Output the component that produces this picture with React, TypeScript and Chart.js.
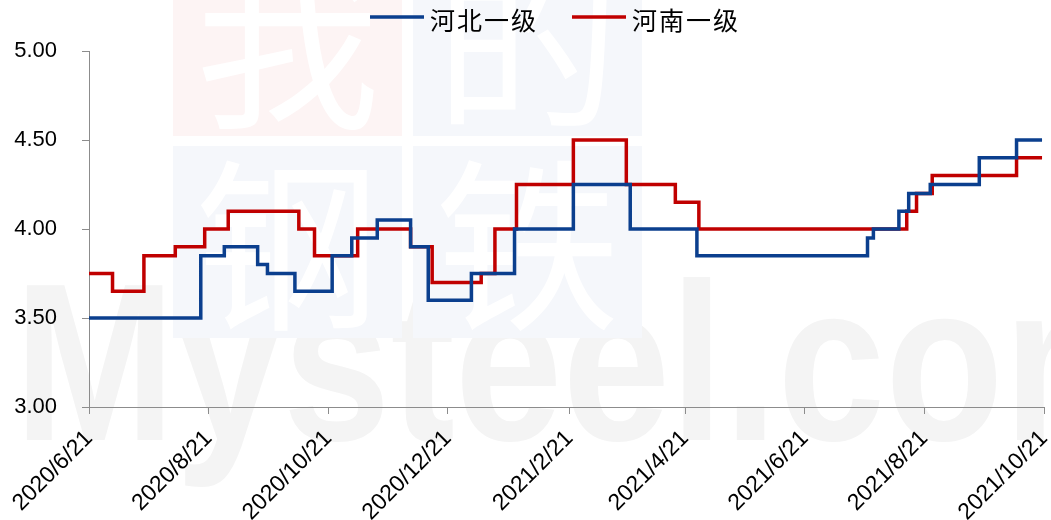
import React, { useEffect, useRef } from "react";
import { Chart, registerables } from "chart.js";

Chart.register(...registerables);

// ---- data ----
const seriesNames = ["河北一级", "河南一级"];
const seriesColors = ["#0B3F8E", "#C00000"];

const hebeiDates = [
  "2020-06-21", "2020-08-17", "2020-08-29", "2020-09-15", "2020-09-20", "2020-10-04",
  "2020-10-23", "2020-11-02", "2020-11-15", "2020-12-02", "2020-12-11", "2021-01-02",
  "2021-01-24", "2021-02-23", "2021-03-24", "2021-04-27", "2021-07-23", "2021-07-26",
  "2021-08-08", "2021-08-13", "2021-08-24", "2021-09-18", "2021-10-07", "2021-10-20",
];
const hebeiValues = [
  3.5, 3.85, 3.9, 3.8, 3.75, 3.65,
  3.85, 3.95, 4.05, 3.9, 3.6, 3.75,
  4.0, 4.25, 4.0, 3.85, 3.95, 4.0,
  4.1, 4.2, 4.25, 4.4, 4.5, 4.5,
];

const henanDates = [
  "2020-06-21", "2020-07-03", "2020-07-19", "2020-08-04", "2020-08-19", "2020-08-31",
  "2020-10-06", "2020-10-14", "2020-11-05", "2020-12-02", "2020-12-13", "2021-01-07",
  "2021-01-14", "2021-01-25", "2021-02-23", "2021-03-22", "2021-04-16", "2021-04-28",
  "2021-08-12", "2021-08-17", "2021-08-25", "2021-10-07", "2021-10-20",
];
const henanValues = [
  3.75, 3.65, 3.85, 3.9, 4.0, 4.1,
  4.0, 3.85, 4.0, 3.9, 3.7, 3.75,
  4.0, 4.25, 4.5, 4.25, 4.15, 4.0,
  4.1, 4.2, 4.3, 4.4, 4.4,
];

const tickDates = [
  "2020-06-21", "2020-08-21", "2020-10-21", "2020-12-21", "2021-02-21",
  "2021-04-21", "2021-06-21", "2021-08-21", "2021-10-21",
];
const tickLabels = [
  "2020/6/21", "2020/8/21", "2020/10/21", "2020/12/21", "2021/2/21",
  "2021/4/21", "2021/6/21", "2021/8/21", "2021/10/21",
];
const yMin = 3;
const yMax = 5;
const yStep = 0.5;

// ---- helpers ----
const START = Date.UTC(2020, 5, 21);
function dayIndex(d: string): number {
  const [y, m, dd] = d.split("-").map(Number);
  return Math.round((Date.UTC(y, m - 1, dd) - START) / 86400000);
}
function toPoints(dates: string[], values: number[]) {
  return dates.map((d, i) => ({ x: dayIndex(d), y: values[i] }));
}

const watermarkPlugin = {
  id: "watermark",
  beforeDraw(chart: any) {
    const ctx = chart.ctx as CanvasRenderingContext2D;
    ctx.save();
    ctx.fillStyle = "#ffffff";
    ctx.fillRect(0, 0, chart.width, chart.height);
    // big latin watermark
    ctx.save();
    ctx.fillStyle = "#f4f4f4";
    ctx.font = "bold 225px 'Liberation Sans'";
    ctx.textBaseline = "alphabetic";
    ctx.textAlign = "left";
    ctx.translate(14, 440);
    ctx.scale(0.86, 1);
    ctx.fillText("Mysteel.com", 0, 0);
    ctx.restore();
    // tinted blocks with white characters
    const blocks = [
      { x: 173, y: -56, w: 229, h: 192, c: "#fdf4f4", t: "我" },
      { x: 413, y: -56, w: 229, h: 192, c: "#f5f7fb", t: "的" },
      { x: 173, y: 146, w: 229, h: 192, c: "#f5f7fb", t: "钢" },
      { x: 413, y: 146, w: 229, h: 192, c: "#f5f7fb", t: "铁" },
    ];
    ctx.textAlign = "center";
    ctx.textBaseline = "middle";
    ctx.font = "185px 'Noto Sans CJK SC'";
    for (const b of blocks) {
      ctx.fillStyle = b.c;
      ctx.fillRect(b.x, b.y, b.w, b.h);
      ctx.fillStyle = "#ffffff";
      ctx.fillText(b.t, b.x + b.w / 2, b.y + b.h / 2 + 4);
    }
    ctx.restore();
  },
};

const legendPlugin = {
  id: "customLegend",
  afterDraw(chart: any) {
    const ctx = chart.ctx as CanvasRenderingContext2D;
    ctx.save();
    ctx.font = "25px 'Noto Sans CJK SC'";
    try { (ctx as any).letterSpacing = "2px"; } catch (e) { /* ignore */ }
    const lineW = 54;
    const gapText = 6;
    const gapItem = 34;
    const items = chart.data.datasets.map((ds: any) => ({
      label: ds.label as string,
      color: ds.borderColor as string,
      tw: ctx.measureText(ds.label).width,
    }));
    const total = items.reduce((s: number, it: any) => s + lineW + gapText + it.tw, 0) + gapItem * (items.length - 1);
    let x = 555 - total / 2;
    const yLine = 17;
    for (const it of items) {
      ctx.strokeStyle = it.color;
      ctx.lineWidth = 3.5;
      ctx.beginPath();
      ctx.moveTo(x, yLine);
      ctx.lineTo(x + lineW, yLine);
      ctx.stroke();
      ctx.fillStyle = "#000000";
      ctx.textAlign = "left";
      ctx.textBaseline = "middle";
      ctx.fillText(it.label, x + lineW + gapText, 20);
      x += lineW + gapText + it.tw + gapItem;
    }
    ctx.restore();
  },
};

export default function App() {
  const canvasRef = useRef<HTMLCanvasElement | null>(null);

  useEffect(() => {
    document.body.style.margin = "0";
    const canvas = canvasRef.current;
    if (!canvas) return;
    const tickValues = tickDates.map(dayIndex);
    const chart = new Chart(canvas, {
      type: "line",
      data: {
        datasets: [
          {
            label: seriesNames[0],
            data: toPoints(hebeiDates, hebeiValues),
            borderColor: seriesColors[0],
            backgroundColor: seriesColors[0],
            borderWidth: 3.5,
            pointRadius: 0,
            stepped: true,
            fill: false,
          },
          {
            label: seriesNames[1],
            data: toPoints(henanDates, henanValues),
            borderColor: seriesColors[1],
            backgroundColor: seriesColors[1],
            borderWidth: 3.5,
            pointRadius: 0,
            stepped: true,
            fill: false,
          },
        ],
      },
      options: {
        responsive: false,
        animation: false,
        devicePixelRatio: 1,
        layout: { padding: { top: 51, right: 7, left: 0, bottom: 0 } },
        plugins: {
          legend: { display: false },
          tooltip: { enabled: false },
        },
        scales: {
          x: {
            type: "linear",
            min: tickValues[0],
            max: tickValues[tickValues.length - 1],
            afterBuildTicks: (scale: any) => {
              scale.ticks = tickValues.map((v) => ({ value: v }));
            },
            afterFit: (scale: any) => {
              scale.height = 113;
              scale.paddingLeft = 0;
              scale.paddingRight = 0;
            },
            ticks: {
              autoSkip: false,
              maxRotation: 45,
              minRotation: 45,
              padding: 11,
              color: "#000000",
              font: { family: "'Liberation Sans', Arial, sans-serif", size: 23 },
              callback: (_v: any, i: number) => tickLabels[i],
            },
            grid: {
              display: true,
              drawOnChartArea: false,
              drawTicks: true,
              tickLength: 7,
              color: "#8c8c8c",
            },
            border: { display: true, color: "#8c8c8c", width: 1 },
          },
          y: {
            type: "linear",
            min: yMin,
            max: yMax,
            afterFit: (scale: any) => {
              scale.width = 89;
            },
            ticks: {
              stepSize: yStep,
              padding: 25,
              color: "#000000",
              font: { family: "'Liberation Sans', Arial, sans-serif", size: 22 },
              callback: (v: any) => Number(v).toFixed(2),
            },
            grid: {
              display: true,
              drawOnChartArea: false,
              drawTicks: true,
              tickLength: 7,
              color: "#8c8c8c",
            },
            border: { display: true, color: "#8c8c8c", width: 1 },
          },
        },
      },
      plugins: [watermarkPlugin, legendPlugin],
    } as any);
    return () => chart.destroy();
  }, []);

  return (
    <div style={{ position: "absolute", left: 0, top: 0, width: 1051, height: 520, background: "#fff" }}>
      <canvas ref={canvasRef} width={1051} height={520} style={{ display: "block", width: 1051, height: 520 }} />
    </div>
  );
}
